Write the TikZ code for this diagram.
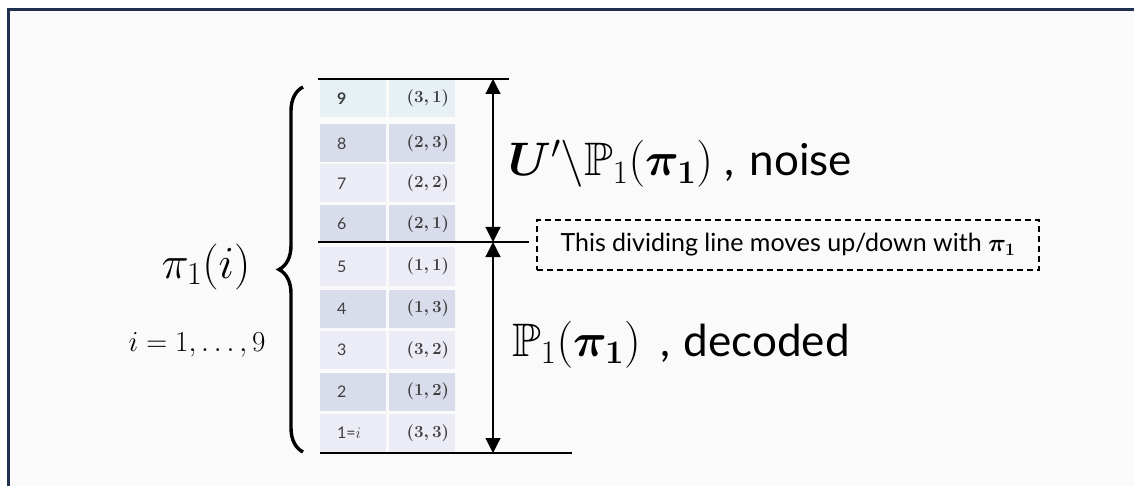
\RequirePackage{fix-cm}
\documentclass[tikz,border=0pt]{standalone}
\usepackage{fontspec}
\setmainfont{Lato}
\usepackage{amsmath,amssymb,bm}
\usetikzlibrary{arrows.meta,decorations.pathreplacing}
\definecolor{bgc}{HTML}{FAFAFA}
\definecolor{framec}{HTML}{1F3050}
\definecolor{cellA}{HTML}{E6F0F5}
\definecolor{cellD}{HTML}{D8DCEB}
\definecolor{cellL}{HTML}{EBECF5}
\definecolor{numc}{HTML}{404040}
\newcommand{\bpair}[2]{$\bm{(#1,#2)}$}
\newcommand{\bigmath}[1]{{\fontsize{47}{52}\selectfont$#1$}}
\tikzset{
  cell/.style={minimum height=38pt, inner ysep=0pt, text=numc},
  lcell/.style={cell, inner xsep=17pt, text width=32pt, align=left, font=\fontsize{16}{18}\selectfont},
  rcell/.style={cell, inner xsep=6pt, text width=54pt, align=right, font=\fontsize{17}{19}\selectfont},
  rule/.style={line width=1.2pt},
  dimarrow/.style={line width=1.2pt, {Triangle[width=15pt,length=15pt]}-{Triangle[width=15pt,length=15pt]}},
  notebox/.style={draw, dashed, dash pattern=on 6pt off 4pt, line width=1.2pt, minimum width=502pt, minimum height=50pt, inner sep=0pt, font=\fontsize{25}{28}\selectfont},
  biglabel/.style={anchor=base west, inner sep=0pt, font=\fontsize{44}{48}\selectfont}
}
\begin{document}
\begin{tikzpicture}[x=1pt,y=-1pt]
\useasboundingbox (0,0) rectangle (1134,486);
\fill[white] (0,0) rectangle (1134,486);
\fill[bgc] (8,9.7) rectangle (1134,486);
\draw[framec, line width=3pt] (8,492) -- (8,9.7) -- (1140,9.7);

% table cells
\node[lcell, fill=cellA] (L9) at (353,98.5) {\textbf{9}};
\node[rcell, fill=cellA] (R9) at (422,98.5) {\bpair{3}{1}};
\node[lcell, fill=cellD] (L8) at (353,143.5) {8};
\node[rcell, fill=cellD] (R8) at (422,143.5) {\bpair{2}{3}};
\node[lcell, fill=cellL] (L7) at (353,183.5) {7};
\node[rcell, fill=cellL] (R7) at (422,183.5) {\bpair{2}{2}};
\node[lcell, fill=cellD] (L6) at (353,224) {6};
\node[rcell, fill=cellD] (R6) at (422,224) {\bpair{2}{1}};
\node[lcell, fill=cellL] (L5) at (353,266.5) {5};
\node[rcell, fill=cellL] (R5) at (422,266.5) {\bpair{1}{1}};
\node[lcell, fill=cellD] (L4) at (353,308.5) {4};
\node[rcell, fill=cellD] (R4) at (422,308.5) {\bpair{1}{3}};
\node[lcell, fill=cellL] (L3) at (353,350) {3};
\node[rcell, fill=cellL] (R3) at (422,350) {\bpair{3}{2}};
\node[lcell, fill=cellD] (L2) at (353,391.5) {2};
\node[rcell, fill=cellD] (R2) at (422,391.5) {\bpair{1}{2}};
\node[lcell, fill=cellL] (L1) at (353,433) {1=$i$};
\node[rcell, fill=cellL] (R1) at (422,433) {\bpair{3}{3}};

% horizontal rules
\coordinate (topL) at (318,79);
\coordinate (topR) at (509,79);
\coordinate (divL) at (318,242);
\coordinate (divR) at (529,242);
\coordinate (botL) at (320,453);
\coordinate (botR) at (572,453);
\draw[rule] (topL) -- (topR);
\draw[rule] (divL) -- (divR);
\draw[rule] (botL) -- (botR);

% dimension arrows
\coordinate (aTop) at (493,79);
\coordinate (aMid) at (493,242);
\coordinate (aBot) at (493,453);
\draw[dimarrow] (aTop) -- (aMid);
\draw[dimarrow] (aMid) -- (aBot);

% brace
\coordinate (brB) at (303,452);
\coordinate (brT) at (303,87);
\draw[line width=3.4pt, decorate, decoration={brace, amplitude=24pt}] (brB) -- (brT);

% left labels
\node[anchor=base, inner sep=0pt, font=\fontsize{46}{50}\selectfont] (pi) at (206,278) {$\pi_1(i)$};
\node[anchor=base, inner sep=0pt, font=\fontsize{29}{32}\selectfont] (irange) at (197,351) {$i = 1, \ldots, 9$};

% right labels
\node[biglabel] (noise) at (508,176) {\bigmath{\bm{U}'\backslash\mathbb{P}_1(\bm{\pi_1})}\hspace{12pt},\hspace{15pt}noise};
\node[biglabel] (decoded) at (512,356) {\bigmath{\mathbb{P}_1(\bm{\pi_1})}\hspace{20pt},\hspace{13pt}decoded};

% note
\node[notebox] (note) at (788,245) {This dividing line moves up/down with $\bm{\pi_1}$};
\end{tikzpicture}
\end{document}
